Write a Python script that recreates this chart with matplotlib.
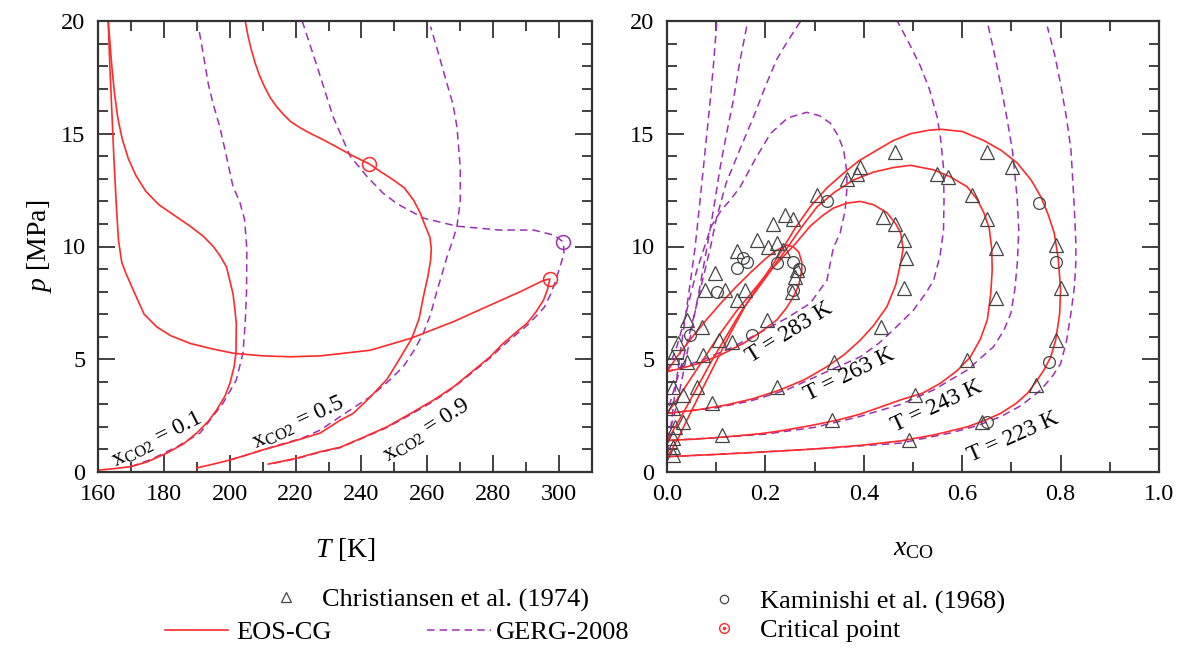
import numpy as np
import matplotlib
matplotlib.use('Agg')
import matplotlib.pyplot as plt
from matplotlib.lines import Line2D

plt.rcParams['font.family'] = ['Liberation Serif', 'DejaVu Serif']
plt.rcParams['mathtext.fontset'] = 'custom'
plt.rcParams['mathtext.rm'] = 'Liberation Serif'
plt.rcParams['mathtext.it'] = 'Liberation Serif:italic'

# ---------- left panel: p-T envelopes ----------
# EOS-CG, x_CO2 = 0.1
T_eos_01 = [160.5, 165, 170, 175, 180.9, 186, 190, 193.5, 196, 198.5, 200.1, 201.3, 201.9, 202, 201.5,
            201, 199, 197, 195, 192, 188, 183, 178.5, 174.5, 171.5, 169.2, 167.3, 166, 165, 164.2, 163.1]
p_eos_01 = [0.09, 0.15, 0.24, 0.45, 0.84, 1.25, 1.73, 2.25, 2.75, 3.35, 3.95, 4.65, 5.28, 6.6, 7.3,
            7.9, 9.1, 9.6, 10.0, 10.45, 10.9, 11.4, 11.85, 12.45, 13.15, 13.9, 14.8, 15.7, 16.8, 18.0, 20.0]
# EOS-CG, x_CO2 = 0.5
T_eos_05 = [190, 195, 200, 205, 210, 216, 222, 227.5, 233.6, 237.5, 242.5, 247.7, 251.5, 255.3, 257.5,
            258.8, 260.2, 261, 261.2, 260.8, 259.4, 257.8, 255.8, 253, 249.7, 246, 242.4, 237, 231.4,
            227.5, 224, 221, 218.4, 216, 214, 212.3, 210.5, 209, 207.8, 206.6, 205.6, 204.7]
p_eos_05 = [0.18, 0.35, 0.53, 0.75, 0.98, 1.22, 1.48, 1.73, 2.3, 2.6, 3.3, 4.1, 5.0, 5.93, 6.8,
            7.77, 8.7, 9.4, 9.9, 10.4, 10.9, 11.5, 12.06, 12.6, 12.95, 13.3, 13.66, 14.05, 14.5,
            14.8, 15.05, 15.3, 15.55, 15.9, 16.25, 16.6, 17.1, 17.6, 18.1, 18.7, 19.3, 20.0]
# EOS-CG, x_CO2 = 0.9
T_eos_09 = [211.7, 220, 227.5, 233.6, 240, 247.7, 255, 262, 268, 274, 279, 283, 287, 290.3, 293, 295.3,
            296.5, 297.2, 295.3, 288.3, 278, 268, 255, 242.7, 233.6, 227.5, 218.4, 210, 201, 195, 188,
            182, 177.8, 174, 170.7, 168.5, 167.2, 166.2, 165.5, 164.8, 164.2, 163.6, 163.1]
p_eos_09 = [0.35, 0.6, 0.9, 1.1, 1.5, 2.0, 2.6, 3.2, 3.78, 4.5, 5.1, 5.7, 6.2, 6.6, 7.1, 7.63,
            8.1, 8.56, 8.5, 8.0, 7.33, 6.67, 5.93, 5.4, 5.25, 5.15, 5.11, 5.15, 5.27, 5.45, 5.7,
            6.05, 6.44, 7.0, 8.07, 8.8, 9.3, 10.3, 12.0, 14.0, 16.0, 18.0, 20.0]
# GERG-2008
T_gerg_01 = [170, 176, 184, 191, 198, 202, 204, 204.7, 205.1, 205.2, 204.5, 203, 201, 199, 197, 195,
             193.5, 192, 190.5]
p_gerg_01 = [0.24, 0.55, 1.12, 1.73, 3.06, 4.08, 5.27, 6.6, 8.0, 9.9, 11.2, 12.0, 12.65, 14.0, 15.3,
             16.3, 17.2, 18.5, 19.75]
T_gerg_05 = [200, 205, 215, 222, 227.5, 235, 242.7, 248, 252.7, 256, 258.8, 261, 263, 264.5, 266,
             267.8, 269, 270, 270, 269, 267.8, 266, 263.5, 261]
p_gerg_05 = [0.53, 0.75, 1.2, 1.5, 1.86, 2.6, 3.34, 4.0, 4.67, 5.4, 6.16, 7.0, 8.07, 8.8, 9.55,
             10.3, 10.9, 12.0, 13.5, 15.3, 16.3, 17.2, 18.5, 19.75]
T_gerg_09 = [222, 226.5, 231.4, 236.6, 241.7, 246.6, 250.8, 258.8, 269, 282, 292.3, 298.5, 301.3,
             301.5, 300.5, 299, 297.5, 295.5, 293, 290.3, 287, 283, 279, 274, 268, 262, 255, 247.7,
             240, 233.6, 227.5, 220, 212]
p_gerg_09 = [20.0, 18.0, 15.75, 14.0, 13.1, 12.36, 11.9, 11.26, 10.9, 10.73, 10.73, 10.5, 10.2,
             9.7, 9.2, 8.5, 7.9, 7.3, 6.9, 6.5, 6.1, 5.6, 5.05, 4.45, 3.75, 3.15, 2.55, 1.97,
             1.48, 1.08, 0.88, 0.58, 0.35]
# critical points
T_crit_eos = [242.4, 297.2]
p_crit_eos = [13.66, 8.56]
T_crit_gerg = [301.3]
p_crit_gerg = [10.2]

# ---------- right panel: p-x isotherms ----------
x_eos_223 = [0, 0.01, 0.025, 0.045, 0.07, 0.1, 0.13, 0.16, 0.19, 0.215, 0.236, 0.26, 0.291, 0.325, 0.359,
             0.39, 0.427, 0.46, 0.495, 0.53, 0.556, 0.6, 0.644, 0.68, 0.712, 0.74, 0.76, 0.775, 0.787,
             0.795, 0.8, 0.798, 0.79, 0.78, 0.766, 0.75, 0.733, 0.71, 0.678, 0.645, 0.61, 0.542, 0.475,
             0.393, 0.3, 0.19, 0.1, 0]
p_eos_223 = [0.68, 1.0, 1.6, 2.5, 3.6, 4.9, 6.2, 7.4, 8.4, 9.2, 9.93, 10.8, 11.76, 12.6, 13.25,
             13.8, 14.28, 14.7, 15.0, 15.15, 15.2, 15.1, 14.7, 14.25, 13.7, 12.95, 12.2, 11.4, 10.6,
             9.5, 8.1, 7.0, 5.85, 5.1, 4.52, 4.0, 3.5, 3.05, 2.6, 2.28, 2.0, 1.64, 1.38,
             1.18, 1.02, 0.88, 0.78, 0.68]
x_eos_243 = [0, 0.01, 0.03, 0.06, 0.09, 0.12, 0.15, 0.18, 0.21, 0.244, 0.275, 0.305, 0.34, 0.379, 0.42,
             0.46, 0.495, 0.542, 0.575, 0.61, 0.63, 0.644, 0.655, 0.66, 0.661, 0.658, 0.651, 0.637, 0.617,
             0.59, 0.556, 0.52, 0.475, 0.43, 0.39, 0.346, 0.29, 0.23, 0.19, 0.12, 0.06, 0]
p_eos_243 = [1.4, 1.75, 2.5, 3.7, 4.9, 6.0, 7.1, 8.0, 8.9, 9.93, 10.9, 11.76, 12.4, 12.95, 13.3,
             13.5, 13.6, 13.4, 13.1, 12.65, 12.1, 11.5, 10.8, 9.9, 8.96, 7.9, 6.74, 5.9, 5.11,
             4.5, 3.94, 3.5, 3.2, 2.85, 2.55, 2.3, 2.05, 1.82, 1.7, 1.56, 1.46, 1.4]
x_eos_263 = [0, 0.02, 0.05, 0.08, 0.11, 0.14, 0.17, 0.2, 0.23, 0.26, 0.291, 0.315, 0.338, 0.365, 0.393,
             0.42, 0.447, 0.465, 0.475, 0.48, 0.475, 0.465, 0.447, 0.42, 0.393, 0.36, 0.325, 0.28, 0.23,
             0.175, 0.12, 0.06, 0]
p_eos_263 = [2.6, 3.2, 4.2, 5.2, 6.2, 7.1, 7.9, 8.7, 9.4, 10.1, 10.9, 11.35, 11.7, 11.92, 12.0,
             11.85, 11.5, 11.0, 10.6, 9.9, 9.27, 8.3, 7.33, 6.5, 5.85, 5.2, 4.67, 4.1, 3.64,
             3.25, 2.97, 2.75, 2.6]
x_eos_283 = [0, 0.02, 0.05, 0.08, 0.11, 0.14, 0.17, 0.2, 0.22, 0.244, 0.257, 0.268, 0.274, 0.274, 0.268,
             0.257, 0.242, 0.223, 0.19, 0.155, 0.11, 0.067, 0.03, 0]
p_eos_283 = [4.45, 5.1, 5.95, 6.75, 7.5, 8.2, 8.85, 9.45, 9.8, 10.07, 9.98, 9.75, 9.3, 8.96, 8.3,
             7.77, 7.25, 6.74, 6.2, 5.7, 5.2, 4.83, 4.6, 4.45]

x_gerg_223 = [0.101, 0.095, 0.088, 0.081, 0.074, 0.066, 0.057, 0.046, 0.035, 0.025, 0.016, 0.008, 0,
              0.1, 0.2, 0.3, 0.4, 0.475, 0.576, 0.63, 0.678, 0.72, 0.76, 0.785, 0.8, 0.812, 0.821, 0.828,
              0.831, 0.831, 0.829, 0.827, 0.824, 0.821, 0.812, 0.8, 0.788, 0.773]
p_gerg_223 = [19.9, 18.2, 16.5, 15.0, 13.5, 11.8, 9.93, 8.2, 6.5, 5.0, 3.5, 2.0, 0.68,
              0.78, 0.9, 1.02, 1.17, 1.28, 1.73, 2.05, 2.45, 2.95, 3.64, 4.3, 4.8, 5.8, 7.04, 8.2,
              9.3, 10.15, 11.2, 12.06, 13.2, 14.3, 15.7, 17.2, 18.5, 19.75]
x_gerg_243 = [0.162, 0.148, 0.135, 0.121, 0.108, 0.095, 0.081, 0.065, 0.05, 0.035, 0.02, 0.008, 0,
              0.1, 0.2, 0.3, 0.39, 0.475, 0.542, 0.61, 0.64, 0.664, 0.685, 0.699, 0.707, 0.712, 0.715,
              0.712, 0.707, 0.702, 0.69, 0.678, 0.665, 0.651]
p_gerg_243 = [19.75, 18.2, 16.5, 15.0, 13.5, 11.7, 9.93, 8.0, 6.3, 4.6, 3.0, 2.0, 1.4,
              1.52, 1.68, 1.98, 2.45, 3.0, 3.64, 4.52, 5.1, 5.56, 6.3, 7.04, 8.1, 9.27, 10.7,
              12.06, 13.2, 14.28, 15.8, 17.2, 18.6, 19.97]
x_gerg_263 = [0.271, 0.245, 0.223, 0.2, 0.176, 0.148, 0.12, 0.1, 0.088, 0.07, 0.05, 0.03, 0.012, 0,
              0.1, 0.17, 0.244, 0.325, 0.393, 0.43, 0.46, 0.501, 0.525, 0.542, 0.555, 0.562, 0.563,
              0.562, 0.556, 0.549, 0.533, 0.515, 0.49, 0.468]
p_gerg_263 = [19.97, 19.1, 18.3, 17.1, 15.75, 14.3, 12.8, 11.2, 9.93, 8.3, 6.5, 4.8, 3.5, 2.6,
              2.85, 3.15, 3.65, 4.45, 5.11, 5.7, 6.3, 7.18, 7.9, 8.5, 9.6, 10.7, 12.06,
              13.5, 14.8, 15.75, 17.0, 18.0, 19.1, 20.0]
x_gerg_283 = [0, 0.01, 0.02, 0.035, 0.047, 0.06, 0.075, 0.09, 0.11, 0.13, 0.149, 0.18, 0.21, 0.245, 0.284,
              0.31, 0.332, 0.348, 0.359, 0.365, 0.366, 0.362, 0.352, 0.338, 0.325, 0.291, 0.244, 0.19,
              0.13, 0.07, 0]
p_gerg_283 = [4.45, 5.0, 5.56, 6.7, 7.77, 8.9, 9.9, 10.9, 11.6, 12.1, 12.65, 13.9, 15.0, 15.7, 15.95,
              15.8, 15.47, 14.9, 14.28, 13.4, 12.65, 11.6, 10.6, 9.93, 8.5, 7.48, 6.83, 6.2,
              5.5, 4.95, 4.45]

# Christiansen et al. (1974)
x_chr = [0.464, 0.393, 0.366, 0.386, 0.305, 0.44, 0.464, 0.481, 0.216, 0.24, 0.257, 0.183, 0.223, 0.142,
         0.651, 0.702, 0.549, 0.572, 0.62, 0.651, 0.79, 0.668,
         0.8, 0.485, 0.481, 0.668, 0.79, 0.61, 0.75, 0.505, 0.641, 0.491,
         0.206, 0.236, 0.264, 0.261, 0.254, 0.098, 0.077, 0.118, 0.159, 0.142, 0.04, 0.071, 0.023,
         0.203, 0.105, 0.132, 0.074, 0.04, 0.01, 0.339, 0.223, 0.06, 0.033, 0.013, 0.091, 0.013,
         0.033, 0.016, 0.335, 0.111, 0.013, 0.013, 0.013, 0.434]
p_chr = [14.2, 13.54, 13.0, 13.2, 12.3, 11.3, 11.0, 10.3, 11.0, 11.4, 11.2, 10.3, 10.15, 9.8,
         14.2, 13.54, 13.2, 13.1, 12.3, 11.2, 10.07, 9.92,
         8.15, 9.5, 8.16, 7.7, 5.85, 4.97, 3.86, 3.41, 2.23, 1.42,
         10.0, 9.85, 8.96, 8.66, 8.0, 8.81, 8.07, 8.07, 8.07, 7.63, 6.74, 6.44, 5.7,
         6.74, 5.85, 5.78, 5.19, 4.89, 5.11, 4.89, 3.78, 3.78, 3.41, 3.78, 3.05, 2.82,
         2.23, 2.01, 2.3, 1.64, 1.49, 1.12, 0.75, 6.44]
# Kaminishi et al. (1968)
x_kam = [0.325, 0.756, 0.79, 0.777, 0.651, 0.155, 0.163, 0.223, 0.257, 0.269, 0.257, 0.142, 0.101, 0.047, 0.173]
p_kam = [12.0, 11.94, 9.33, 4.9, 2.23, 9.48, 9.33, 9.25, 9.33, 9.0, 8.07, 9.03, 8.0, 6.07, 6.07]

RED = '#ff2a2a'
PURP = '#9b30b2'
DASH = (0, (5, 3.2))
W, H = 1178, 648

fig = plt.figure(figsize=(W / 100, H / 100), dpi=100)
ax1 = fig.add_axes([98 / W, 1 - 472 / H, 494 / W, 451 / H])
ax2 = fig.add_axes([667 / W, 1 - 472 / H, 492 / W, 451 / H])

for ax in (ax1, ax2):
    ax.set_ylim(0, 20)
    ax.set_yticks([0, 5, 10, 15, 20])
    ax.set_yticks(np.arange(0, 21, 1), minor=True)
    ax.tick_params(which='both', direction='in', top=True, right=True, width=1.3,
                   color='#333333', labelsize=17.5)
    ax.tick_params(axis='x', pad=9)
    ax.tick_params(axis='y', pad=9)
    ax.tick_params(which='major', length=12)
    ax.tick_params(which='minor', length=7)
    for s in ax.spines.values():
        s.set_linewidth(1.6)
        s.set_color('#333333')

# left panel
ax1.plot(T_gerg_01, p_gerg_01, color=PURP, lw=1.1, ls=DASH)
ax1.plot(T_gerg_05, p_gerg_05, color=PURP, lw=1.1, ls=DASH)
ax1.plot(T_gerg_09, p_gerg_09, color=PURP, lw=1.1, ls=DASH)
ax1.plot(T_eos_01, p_eos_01, color=RED, lw=1.2)
ax1.plot(T_eos_05, p_eos_05, color=RED, lw=1.2)
ax1.plot(T_eos_09, p_eos_09, color=RED, lw=1.2)
ax1.plot(T_crit_eos, p_crit_eos, 'o', ms=10, mfc='none', mec=RED, mew=1.1)
ax1.plot(T_crit_gerg, p_crit_gerg, 'o', ms=10, mfc='none', mec=PURP, mew=1.1)
ax1.set_xlim(160, 310)
ax1.set_xticks(np.arange(160, 301, 20))
ax1.set_xticks(np.arange(160, 311, 10), minor=True)
ax1.set_xlabel('$T$ [K]', fontsize=20, labelpad=22)
ax1.set_ylabel('$p$ [MPa]', fontsize=20, labelpad=5)

ax1.text(178, 1.45, r'$\mathregular{x_{CO2}}$ = 0.1', fontsize=17, rotation=27, ha='center', va='center')
ax1.text(220.8, 2.2, r'$\mathregular{x_{CO2}}$ = 0.5', fontsize=17, rotation=25, ha='center', va='center')
ax1.text(259.7, 1.85, r'$\mathregular{x_{CO2}}$ = 0.9', fontsize=17, rotation=33, ha='center', va='center')

# right panel
for xs, ps in [(x_gerg_223, p_gerg_223), (x_gerg_243, p_gerg_243),
               (x_gerg_263, p_gerg_263), (x_gerg_283, p_gerg_283)]:
    ax2.plot(xs, ps, color=PURP, lw=1.1, ls=DASH)
for xs, ps in [(x_eos_223, p_eos_223), (x_eos_243, p_eos_243),
               (x_eos_263, p_eos_263), (x_eos_283, p_eos_283)]:
    ax2.plot(xs, ps, color=RED, lw=1.2)
ax2.plot(x_chr, p_chr, '^', ms=10, mfc='none', mec='#444444', mew=0.9)
ax2.plot(x_kam, p_kam, 'o', ms=8.5, mfc='none', mec='#444444', mew=0.9)
ax2.set_xlim(0, 1)
ax2.set_xticks(np.arange(0, 1.01, 0.2))
ax2.set_xticks(np.arange(0, 1.01, 0.1), minor=True)
ax2.set_xticklabels(['0.0', '0.2', '0.4', '0.6', '0.8', '1.0'])
ax2.set_xlabel(r'$x_\mathregular{CO}$', fontsize=20, labelpad=22)

ax2.text(0.248, 6.2, 'T = 283 K', fontsize=17, rotation=32, ha='center', va='center')
ax2.text(0.37, 4.3, 'T = 263 K', fontsize=17, rotation=26, ha='center', va='center')
ax2.text(0.548, 2.9, 'T = 243 K', fontsize=17, rotation=25, ha='center', va='center')
ax2.text(0.703, 1.55, 'T = 223 K', fontsize=17, rotation=24, ha='center', va='center')

# legend
h_chr = Line2D([], [], ls='none', marker='^', ms=7, mfc='none', mec='#444444', mew=0.9)
h_kam = Line2D([], [], ls='none', marker='o', ms=6, mfc='none', mec='#444444', mew=0.9)
h_eos = Line2D([], [], color=RED, lw=1.2)
h_gerg = Line2D([], [], color=PURP, lw=1.1, ls=DASH)
h_crit = (Line2D([], [], ls='none', marker='o', ms=7, mfc='none', mec=RED, mew=1.0),
          Line2D([], [], ls='none', marker='o', ms=1.5, mfc=RED, mec=RED))

leg_kw = dict(frameon=False, borderpad=0, borderaxespad=0, fontsize=19, loc='center left')
fig.legend([h_chr], ['Christiansen et al. (1974)'], bbox_to_anchor=(273 / W, 1 - 600 / H),
           handlelength=1.0, handletextpad=0.86, **leg_kw)
fig.legend([h_kam, h_crit], ['Kaminishi et al. (1968)', 'Critical point'],
           bbox_to_anchor=(711 / W, 1 - 616 / H), handlelength=1.0, handletextpad=0.86,
           labelspacing=0.2, **leg_kw)
fig.legend([h_eos], ['EOS-CG'], bbox_to_anchor=(165 / W, 1 - 632 / H),
           handlelength=2.4, handletextpad=0.3, **leg_kw)
fig.legend([h_gerg], ['GERG-2008'], bbox_to_anchor=(427 / W, 1 - 632 / H),
           handlelength=2.42, handletextpad=0.2, **leg_kw)

fig.savefig('out.png', dpi=100)
